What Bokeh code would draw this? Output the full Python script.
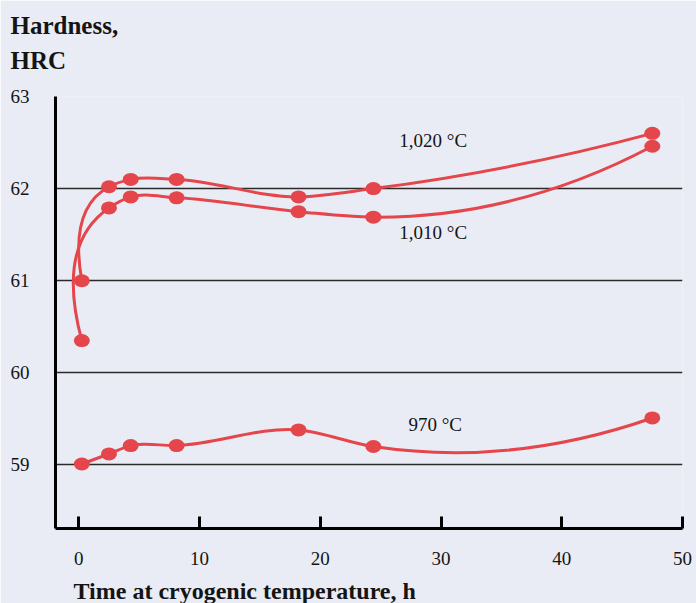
import numpy as np
from bokeh.plotting import figure
from bokeh.models import FixedTicker, Label, Title
from bokeh.embed import file_html
from bokeh.resources import INLINE

# ---- data ----
hours = [0.25, 2.5, 4.3, 8.1, 18.2, 24.4, 47.5]
hrc_1020 = [61.00, 62.02, 62.10, 62.10, 61.91, 62.00, 62.60]
hrc_1010 = [60.35, 61.79, 61.91, 61.90, 61.75, 61.69, 62.46]
hrc_970 = [59.01, 59.12, 59.21, 59.21, 59.38, 59.20, 59.51]
series_names = ["1,020 °C", "1,010 °C", "970 °C"]
x_ticks = [0, 10, 20, 30, 40, 50]
y_ticks = [59, 60, 61, 62, 63]
y_title = "Hardness,\nHRC"
x_title = "Time at cryogenic temperature, h"

BG = "#e9ecf4"
RED = "#e4464b"
INK = "#141414"
SERIF = "Liberation Serif"

# pixel-per-unit ratios (used only to shape the smooth curve in screen proportion)
PX_X = 12.07
PX_Y = 92.1


def smooth_bezier(xs, ys):
    """Chord-length (Bessel) tangent spline in screen proportion,
    returned as cubic Bezier segments in data units."""
    P = np.column_stack([np.asarray(xs, float) * PX_X, np.asarray(ys, float) * PX_Y])
    d = np.diff(P, axis=0)
    h = np.hypot(d[:, 0], d[:, 1])
    u = d / h[:, None]
    n = len(P)
    m = np.zeros_like(P)
    for i in range(1, n - 1):
        w0 = h[i] / (h[i - 1] + h[i])
        w1 = h[i - 1] / (h[i - 1] + h[i])
        m[i] = w0 * u[i - 1] + w1 * u[i]
    m[0] = 2 * u[0] - m[1]
    m[-1] = 2 * u[-1] - m[-2]
    c0 = P[:-1] + (h / 3)[:, None] * m[:-1]
    c1 = P[1:] - (h / 3)[:, None] * m[1:]
    return dict(
        x0=P[:-1, 0] / PX_X, y0=P[:-1, 1] / PX_Y,
        x1=P[1:, 0] / PX_X, y1=P[1:, 1] / PX_Y,
        cx0=c0[:, 0] / PX_X, cy0=c0[:, 1] / PX_Y,
        cx1=c1[:, 0] / PX_X, cy1=c1[:, 1] / PX_Y,
    )


p = figure(
    width=696, height=603,
    x_range=(-1.93, 50.0), y_range=(58.31, 63.0),
    output_backend="svg", toolbar_location=None,
    min_border_left=55, min_border_right=14,
    min_border_top=96, min_border_bottom=75,
    background_fill_color=BG, border_fill_color=BG,
    outline_line_color=None,
)

# y-axis title (top-left, two lines), lifted by an empty spacer title under it
p.title.text = y_title
p.title.align = "left"
p.title.offset = -45
p.title.standoff = 0
p.title.text_font = SERIF
p.title.text_font_size = "25px"
p.title.text_font_style = "bold"
p.title.text_color = INK
p.title.text_line_height = 1.32
p.add_layout(Title(text=" ", text_font_size="14px", text_line_height=1.0,
                   standoff=4, text_color=BG), "above")

# axes
p.xaxis.ticker = FixedTicker(ticks=x_ticks)
p.xaxis.major_tick_in = 12
p.xaxis.major_tick_out = 0
p.xaxis.minor_tick_line_color = None
p.xaxis.major_tick_line_width = 3
p.xaxis.major_tick_line_color = "black"
p.xaxis.axis_line_width = 3
p.xaxis.axis_line_color = "black"
p.xaxis.major_label_standoff = 23
p.xaxis.major_label_text_font = SERIF
p.xaxis.major_label_text_font_size = "19px"
p.xaxis.major_label_text_color = INK

p.yaxis.ticker = FixedTicker(ticks=y_ticks)
p.yaxis.major_tick_in = 0
p.yaxis.major_tick_out = 0
p.yaxis.minor_tick_line_color = None
p.yaxis.axis_line_width = 3
p.yaxis.axis_line_color = "black"
p.yaxis.major_label_standoff = 26
p.yaxis.major_label_text_font = SERIF
p.yaxis.major_label_text_font_size = "19px"
p.yaxis.major_label_text_color = INK

p.xgrid.visible = False
p.ygrid.ticker = FixedTicker(ticks=[t for t in y_ticks if t < 63])
p.ygrid.grid_line_color = "#2a2a2a"
p.ygrid.grid_line_width = 1.5

# x-axis title (left aligned, below the tick labels), pushed down by a thin spacer
p.add_layout(Title(text=" ", text_font_size="4px", text_line_height=1.0,
                   standoff=1, text_color=BG), "below")
p.add_layout(Title(text=x_title, align="left", offset=18, standoff=0,
                   text_font=SERIF, text_font_size="24px", text_font_style="bold",
                   text_color=INK), "below")

# curves and markers
for ys in (hrc_1020, hrc_1010, hrc_970):
    p.bezier(line_color=RED, line_width=3, **smooth_bezier(hours, ys))
for ys in (hrc_1020, hrc_1010, hrc_970):
    p.ellipse(x=hours, y=ys, width=16, height=13, width_units="screen",
              height_units="screen", fill_color=RED, line_color=None)

# series labels
for txt, lx, ly in ((series_names[0], 26.55, 62.52),
                    (series_names[1], 26.55, 61.52),
                    (series_names[2], 27.3, 59.44)):
    p.add_layout(Label(x=lx, y=ly, text=txt, text_font=SERIF, text_font_size="19px",
                       text_color=INK, text_align="left", text_baseline="middle"))

open("out.html", "w").write(file_html(p, INLINE))
